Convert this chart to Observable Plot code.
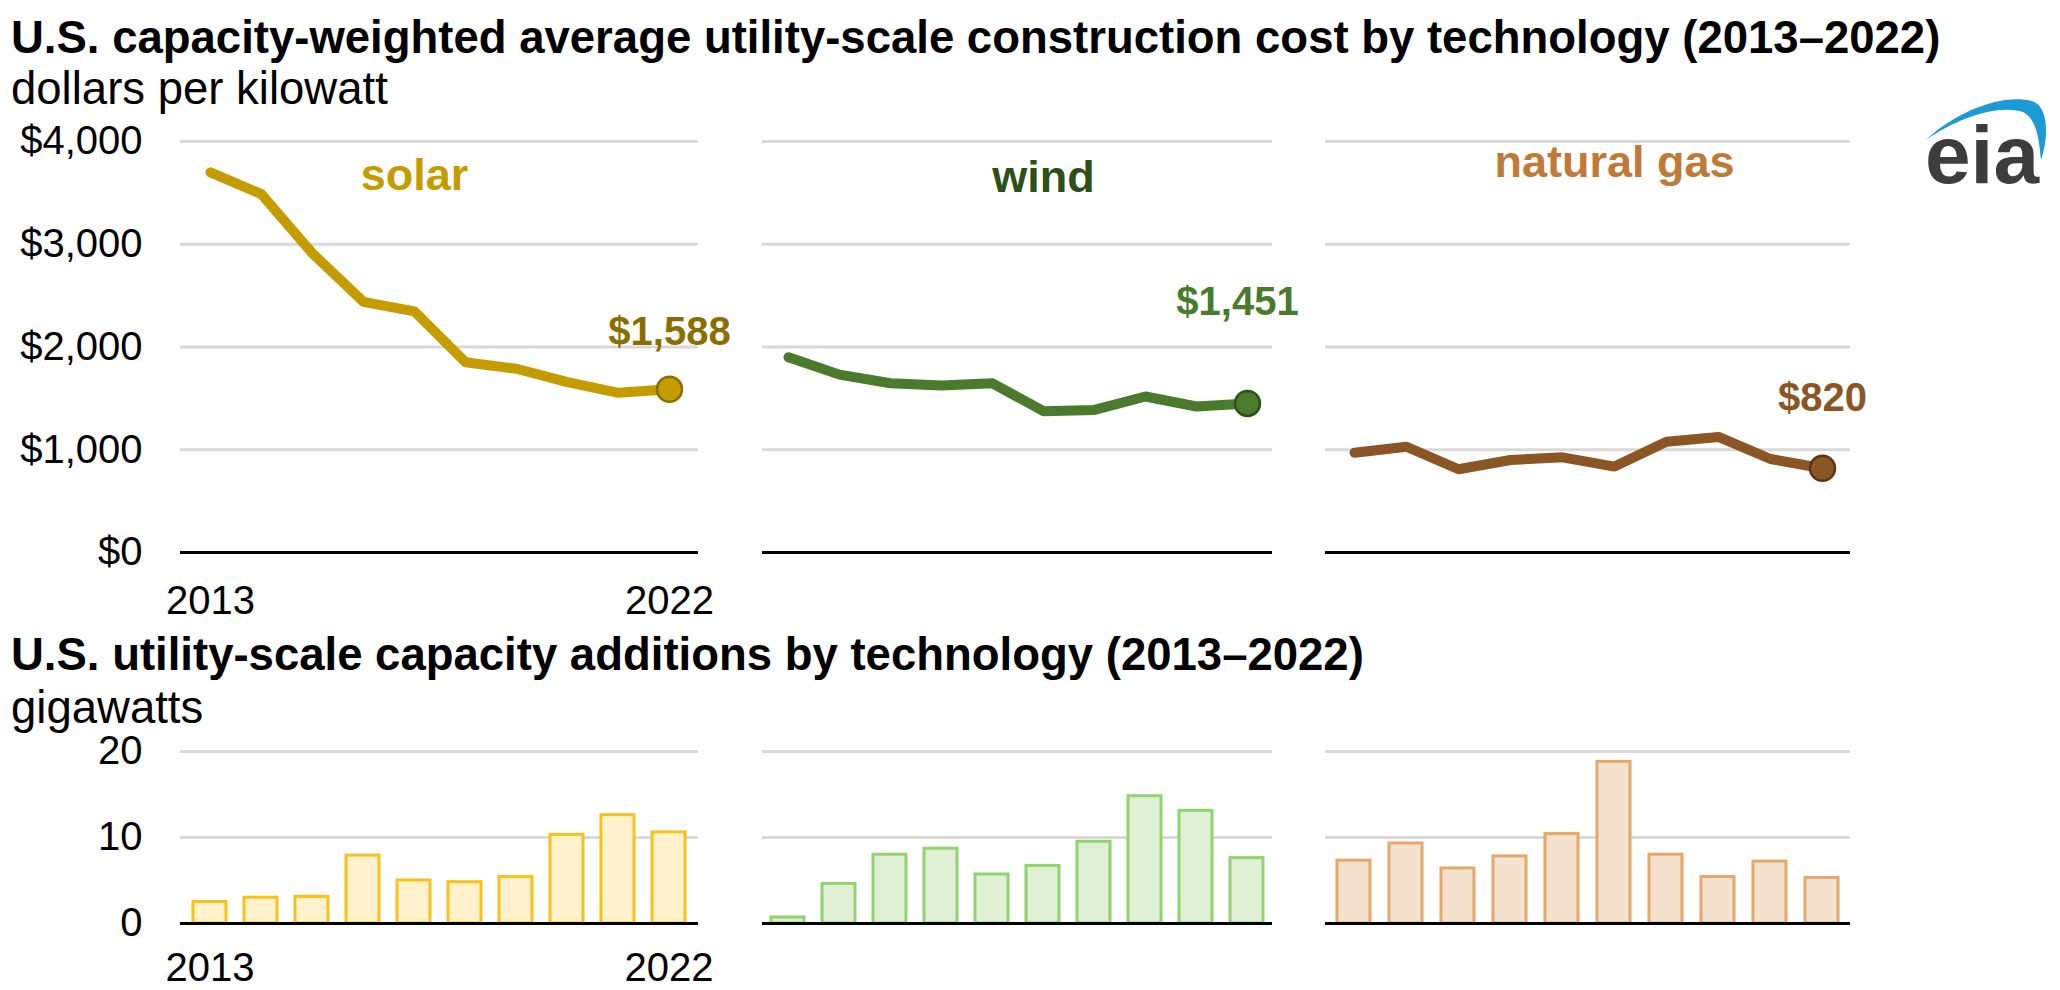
<!DOCTYPE html>
<html><head><meta charset="utf-8">
<script src="https://cdn.jsdelivr.net/npm/d3@7"></script>
<script src="https://cdn.jsdelivr.net/npm/@observablehq/plot@0.6"></script>
<style>
html,body{margin:0;padding:0;background:#fff;}
#root{position:relative;width:2060px;height:990px;overflow:hidden;font-family:"Liberation Sans",Arial,sans-serif;color:#000;}
.t{position:absolute;left:11px;font-size:45.5px;line-height:46px;white-space:nowrap;}
.b{font-weight:bold;}
.panel{position:absolute;}
</style></head><body><div id="root">
<div class="t b" style="top:15px">U.S. capacity-weighted average utility-scale construction cost by technology (2013–2022)</div>
<div class="t" style="top:66px">dollars per kilowatt</div>
<div class="t b" style="top:632px">U.S. utility-scale capacity additions by technology (2013–2022)</div>
<div class="t" style="top:685px">gigawatts</div>
<svg style="position:absolute;left:0;top:0" width="2060" height="990">
  <path d="M1926,140 C1955,112 2002,93 2032,101 C2050,107 2048,140 2041,160 C2039,140 2037,119 2023,112 C1997,104 1956,119 1926,140 Z" fill="#1B9AD6"/>
  <text x="1982" y="183" text-anchor="middle" font-family="Liberation Sans, Arial, sans-serif" font-weight="bold" font-size="82" fill="#3d3d3d">eia</text>
</svg>
</div>
<script>
// ---- data ----
const years = [2013, 2014, 2015, 2016, 2017, 2018, 2019, 2020, 2021, 2022];
const technologies = ["solar", "wind", "natural gas"];
const solarCost = [3700, 3487, 2911, 2439, 2346, 1851, 1788, 1658, 1554, 1588];
const windCost  = [1900, 1731, 1647, 1625, 1647, 1375, 1388, 1518, 1421, 1451];
const gasCost   = [971, 1029, 810, 900, 926, 836, 1077, 1125, 910, 820];
const solarCap = [2.5, 3.0, 3.1, 7.9, 5.0, 4.8, 5.4, 10.3, 12.6, 10.6];
const windCap  = [0.7, 4.6, 8.0, 8.7, 5.7, 6.7, 9.5, 14.8, 13.1, 7.6];
const gasCap   = [7.3, 9.3, 6.4, 7.8, 10.4, 18.8, 8.0, 5.4, 7.2, 5.3];
const costTicks = [0, 1000, 2000, 3000, 4000];
const capTicks = [0, 10, 20];
const yearTicks = [2013, 2022];

const costSeries = [solarCost, windCost, gasCost];
const capSeries = [solarCap, windCap, gasCap];

// ---- styling per panel ----
const styles = [
  {line:"#C49C00", dot:"#8A6E00", nameColor:"#C49C00", valColor:"#8A6E00", barFill:"#FFF2CC", barStroke:"#F7C21B",
   left:0, ml:180, fw:518, mr:50, axes:true, nameYear:2017, nameDy:48, valDy:-44, valDx:0},
  {line:"#4A7A2B", dot:"#2D5016", nameColor:"#2D5016", valColor:"#4A7A2B", barFill:"#DFF0D4", barStroke:"#92D26F",
   left:752, ml:10, fw:510, mr:40, axes:false, nameYear:2018, nameDy:50, valDy:-88, valDx:-10},
  {line:"#8C5524", dot:"#5C3613", nameColor:"#C07A35", valColor:"#8C5524", barFill:"#F4E2CF", barStroke:"#E4A86B",
   left:1315, ml:10, fw:525, mr:40, axes:false, nameYear:2018, nameDy:35, valDy:-57, valDx:0}
];

const root = document.getElementById("root");
const font = "Liberation Sans, Arial, sans-serif";
const fmtDollar = d3.format("$,");
const fmtYear = d => String(d);

function place(svg, left, top) {
  svg.classList.add("panel");
  svg.style.left = left + "px";
  svg.style.top = top + "px";
  root.appendChild(svg);
}

technologies.forEach((name, i) => {
  const s = styles[i];
  const costRows = years.map((y, j) => ({year: y, value: costSeries[i][j]}));
  const capRows = years.map((y, j) => ({year: y, value: capSeries[i][j]}));
  const last = [costRows[costRows.length - 1]];

  const top = Plot.plot({
    width: s.ml + s.fw + s.mr, height: 530,
    marginTop: 41, marginBottom: 78, marginLeft: s.ml, marginRight: s.mr,
    style: {fontFamily: font, fontSize: "40px", color: "#000", background: "transparent", overflow: "visible"},
    x: {type: "point", domain: years, padding: 0.5, axis: null},
    y: {domain: [0, 4000], axis: null},
    marks: [
      Plot.ruleY(costTicks.filter(d => d > 0), {stroke: "#D9D9D9", strokeWidth: 3}),
      Plot.ruleY([0], {stroke: "#000", strokeWidth: 3}),
      s.axes ? Plot.axisY(costTicks, {tickSize: 0, tickPadding: 38, tickFormat: fmtDollar, fontSize: 40, label: null}) : null,
      s.axes ? Plot.axisX(yearTicks, {tickSize: 0, tickPadding: 33, tickFormat: fmtYear, fontSize: 40, label: null}) : null,
      Plot.line(costRows, {x: "year", y: "value", stroke: s.line, strokeWidth: 10, strokeLinejoin: "round", strokeLinecap: "round"}),
      Plot.dot(last, {x: "year", y: "value", r: 12.5, fill: s.line, stroke: s.dot, strokeWidth: 2.5}),
      Plot.text(last, {x: "year", y: "value", text: d => fmtDollar(d.value), dy: s.valDy, dx: s.valDx, lineAnchor: "bottom",
        fill: s.valColor, fontSize: 40, fontWeight: "bold"}),
      Plot.text([name], {x: () => s.nameYear, frameAnchor: "top", dy: s.nameDy, lineAnchor: "bottom",
        text: d => d, fill: s.nameColor, fontSize: 45, fontWeight: "bold"})
    ]
  });
  place(top, s.left, 100);

  const bottom = Plot.plot({
    width: s.ml + s.fw + s.mr, height: 270,
    marginTop: 31, marginBottom: 67, marginLeft: s.ml, marginRight: s.mr,
    style: {fontFamily: font, fontSize: "40px", color: "#000", background: "transparent", overflow: "visible"},
    x: {type: "band", domain: years, paddingInner: 0.36, paddingOuter: 0.18, axis: null},
    y: {domain: [0, 20], axis: null},
    marks: [
      Plot.ruleY(capTicks.filter(d => d > 0), {stroke: "#D9D9D9", strokeWidth: 3}),
      Plot.barY(capRows, {x: "year", y: "value", fill: s.barFill, stroke: s.barStroke, strokeWidth: 3}),
      Plot.ruleY([0], {stroke: "#000", strokeWidth: 3}),
      s.axes ? Plot.axisY(capTicks, {tickSize: 0, tickPadding: 38, fontSize: 40, label: null}) : null,
      s.axes ? Plot.axisX(yearTicks, {tickSize: 0, tickPadding: 29, tickFormat: fmtYear, fontSize: 40, label: null}) : null
    ]
  });
  place(bottom, s.left, 720);
});
</script>
</body></html>
